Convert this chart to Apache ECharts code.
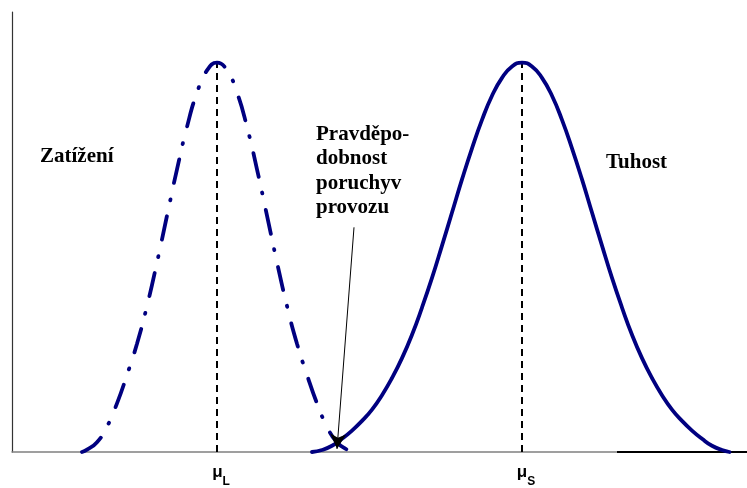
<!DOCTYPE html>
<html>
<head>
<meta charset="utf-8">
<script src="https://cdn.jsdelivr.net/npm/echarts@6/dist/echarts.min.js"></script>
<style>
html,body{margin:0;padding:0;background:#fff;}
#chart{width:747px;height:488px;}
</style>
</head>
<body>
<div id="chart"></div>
<script>
// Load (Zatížení) distribution
var loadX = [14, 15, 17, 19, 21, 23, 25, 27, 29, 31, 33, 35, 37, 39, 41, 43, 45, 47, 49, 51, 53, 55, 57, 59, 61, 63, 65, 67, 68];
var loadY = [0, 0.006, 0.025, 0.065, 0.125, 0.198, 0.278, 0.375, 0.487, 0.607, 0.726, 0.835, 0.923, 0.98, 1, 0.98, 0.923, 0.835, 0.726, 0.607, 0.487, 0.375, 0.278, 0.198, 0.125, 0.065, 0.025, 0.006, 0];
// Strength (Tuhost) distribution
var strengthX = [60, 62, 64, 66, 68, 70, 72, 74, 76, 78, 80, 82, 84, 86, 88, 90, 92, 94, 96, 98, 100, 102, 104, 106, 108, 110, 112, 114, 116, 118, 120, 122, 124, 126, 128, 130, 132, 134, 136, 138, 140, 142, 143.5];
var strengthY = [0, 0.005, 0.016, 0.034, 0.055, 0.08, 0.109, 0.146, 0.19, 0.241, 0.301, 0.371, 0.447, 0.53, 0.615, 0.7, 0.78, 0.853, 0.915, 0.961, 0.99, 1, 0.99, 0.961, 0.915, 0.853, 0.78, 0.7, 0.615, 0.53, 0.447, 0.371, 0.301, 0.241, 0.19, 0.146, 0.109, 0.08, 0.055, 0.034, 0.016, 0.005, 0];
// means and peak heights
var means = [41, 102];
var meanPeaks = [1, 1];
var meanSymbols = ['L', 'S'];
// annotation arrow (Pravděpodobnost poruchy provozu)
var arrowStart = [68.4, 0.577];
var arrowEnd = [65, 0.008];
// dark baseline segment on the right
var baseSegX = [121, 147];

function pairs(xs, ys) { return xs.map(function (x, i) { return [x, ys[i]]; }); }

var navy = '#000080';
var chart = echarts.init(document.getElementById('chart'), null, { renderer: 'canvas' });

var meanLines = means.map(function (m, i) {
  return {
    type: 'line', data: [[m, 0], [m, meanPeaks[i]]], showSymbol: false, silent: true, z: 1,
    lineStyle: { color: '#000', width: 2, type: [7, 5] }
  };
});

chart.setOption({
  animation: false,
  backgroundColor: '#fff',
  grid: { left: 12, right: 0, top: 12, bottom: 34, containLabel: false },
  xAxis: {
    type: 'value', min: 0, max: 147,
    axisLine: { show: true, onZero: false, lineStyle: { color: '#808080', width: 1.5 } },
    axisTick: { show: false },
    splitLine: { show: false },
    axisLabel: {
      customValues: means,
      margin: 12,
      formatter: function (v) {
        var i = means.indexOf(v);
        return '{m|μ}{s|' + meanSymbols[i] + '}';
      },
      rich: {
        m: { fontFamily: 'Liberation Sans', fontWeight: 'bold', fontSize: 17, color: '#000', lineHeight: 24, verticalAlign: 'top', padding: [0, 0, 0, 8] },
        s: { fontFamily: 'Liberation Sans', fontWeight: 'bold', fontSize: 12, color: '#000', lineHeight: 24, verticalAlign: 'bottom' }
      }
    }
  },
  yAxis: {
    type: 'value', min: 0, max: 1.13,
    axisLine: { show: true, onZero: false, lineStyle: { color: '#333', width: 1.2 } },
    axisTick: { show: false }, axisLabel: { show: false }, splitLine: { show: false }
  },
  series: [
    {
      type: 'line', data: pairs(baseSegX, [0, 0]), showSymbol: false, silent: true, z: 1,
      lineStyle: { color: '#000', width: 2 }
    }
  ].concat(meanLines).concat([
    {
      type: 'line', name: 'Zatížení', data: pairs(loadX, loadY), smooth: 0.5, showSymbol: false, z: 3,
      lineStyle: { color: navy, width: 3.8, type: [24, 16, 1, 17], cap: 'round' }
    },
    {
      type: 'line', name: 'Tuhost', data: pairs(strengthX, strengthY), smooth: 0.5, showSymbol: false, z: 3,
      lineStyle: { color: navy, width: 3.8, cap: 'round' }
    },
    {
      type: 'line', data: [], z: 6, silent: true,
      markLine: {
        silent: true, symbol: ['none', 'arrow'], symbolSize: [12, 15], animation: false, z: 6,
        label: { show: false },
        itemStyle: { color: '#000' },
        lineStyle: { color: '#000', width: 1, type: 'solid' },
        data: [[{ coord: arrowStart }, { coord: arrowEnd }]]
      }
    }
  ]),
  graphic: [
    { type: 'text', left: 40, top: 146, style: { text: 'Zatížení', font: 'bold 21px "Liberation Serif"', fill: '#000' } },
    { type: 'text', left: 606, top: 152, style: { text: 'Tuhost', font: 'bold 21px "Liberation Serif"', fill: '#000' } },
    { type: 'text', left: 316, top: 122, style: { text: 'Pravděpo-\ndobnost\nporuchyv\nprovozu', font: 'bold 21px "Liberation Serif"', fill: '#000', lineHeight: 24.5 } }
  ]
});
</script>
</body>
</html>
